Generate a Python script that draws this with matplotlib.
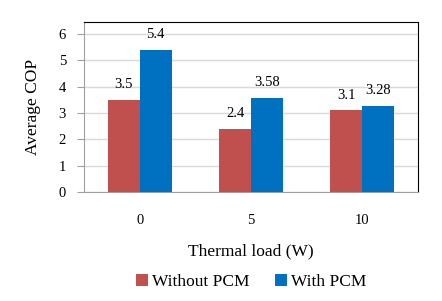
import numpy as np
import matplotlib
matplotlib.use("Agg")
import matplotlib.pyplot as plt

# data
loads = ["0", "5", "10"]
without_pcm = [3.5, 2.4, 3.1]
with_pcm = [5.4, 3.58, 3.28]
without_labels = ["3.5", "2.4", "3.1"]
with_labels = ["5.4", "3.58", "3.28"]

plt.rcParams["font.family"] = ["Liberation Serif", "DejaVu Serif"]

fig = plt.figure(figsize=(4.42, 3.01), dpi=100)
ax = fig.add_axes([84 / 442, 1 - 192 / 301, 334 / 442, 170 / 301])

x = np.arange(len(loads))
w = 0.287
b1 = ax.bar(x - w / 2, without_pcm, w, color="#C0504D", label="Without PCM", zorder=3)
b2 = ax.bar(x + w / 2, with_pcm, w, color="#0070C0", label="With PCM", zorder=3)

for rect, txt in zip(b1, without_labels):
    ax.annotate(txt, (rect.get_x() + rect.get_width() / 2, rect.get_height()),
                xytext=(0, 6), textcoords="offset points", ha="center", va="bottom", fontsize=10.5)
for rect, txt in zip(b2, with_labels):
    ax.annotate(txt, (rect.get_x() + rect.get_width() / 2, rect.get_height()),
                xytext=(0, 6), textcoords="offset points", ha="center", va="bottom", fontsize=10.5)

ax.set_xlim(-0.5, 2.5)
ax.set_ylim(0, 6.45)
ax.set_yticks(range(7))
ax.set_xticks(x)
ax.set_xticklabels(loads)
ax.yaxis.grid(True, color="#D9D9D9", linewidth=1, zorder=0)
ax.tick_params(axis="y", length=5, color="#A0A0A0", labelsize=10.5, pad=8)
ax.tick_params(axis="x", length=0, labelsize=10.5, pad=16)

ax.spines["left"].set_color("#A0A0A0")
ax.spines["bottom"].set_color("#A0A0A0")
ax.spines["top"].set_color("black")
ax.spines["right"].set_color("black")

ax.set_ylabel("Average COP", fontsize=12.5, labelpad=13)
ax.set_xlabel("Thermal load (W)", fontsize=12.5, labelpad=12)

fig.legend(loc="center", bbox_to_anchor=(251 / 442, 1 - 282 / 301), ncol=2, frameon=False,
           fontsize=12.5, handlelength=0.7, handleheight=0.7, handletextpad=0.2, columnspacing=1.5)

fig.savefig("out.png", dpi=100)
